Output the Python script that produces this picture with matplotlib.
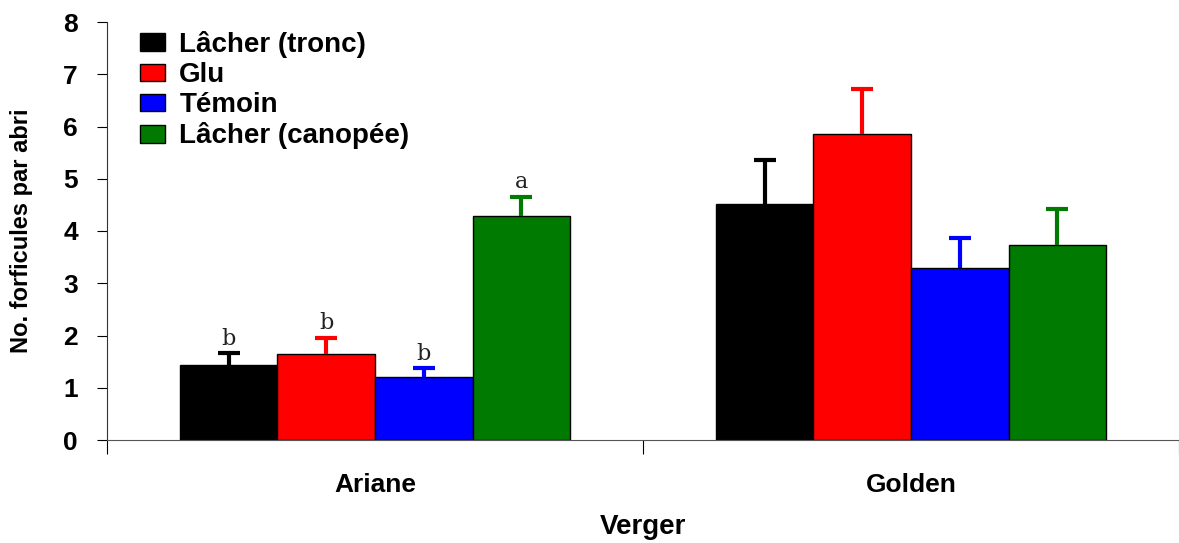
import numpy as np
import matplotlib; matplotlib.use("Agg"); import matplotlib.pyplot as plt
from matplotlib.patches import Patch

plt.rcParams["font.family"] = ["Liberation Sans", "DejaVu Sans"]
plt.rcParams["font.weight"] = "bold"
plt.rcParams["axes.labelweight"] = "bold"

vergers = ["Ariane", "Golden"]
treatments = ["Lâcher (tronc)", "Glu", "Témoin", "Lâcher (canopée)"]
colors = ["#000000", "#ff0000", "#0000ff", "#007a00"]
means = [[1.44, 4.52],   # Lâcher (tronc)
         [1.65, 5.86],   # Glu
         [1.20, 3.30],   # Témoin
         [4.29, 3.74]]   # Lâcher (canopée)
errs = [[0.22, 0.84],
        [0.31, 0.86],
        [0.18, 0.57],
        [0.37, 0.68]]
letters = [["b", ""], ["b", ""], ["b", ""], ["a", ""]]

fig = plt.figure(figsize=(11.79, 5.43), dpi=100)
ax = fig.add_axes([107 / 1179, 1 - 440 / 543, 1072 / 1179, 418 / 543])

centers = np.array([0.5, 1.5])
w = 0.182
for i, (lab, c) in enumerate(zip(treatments, colors)):
    x = centers + (i - 1.5) * w
    ax.bar(x, means[i], w, color=c, edgecolor="black", linewidth=1.0, label=lab, zorder=2)
    eb = ax.errorbar(x, means[i], yerr=[np.zeros(2), errs[i]], fmt="none", ecolor=c,
                     elinewidth=3, capsize=8, capthick=3, zorder=3)
    eb[1][0].set_visible(False)  # drop the lower caps, keep only the upper ones
    for j in range(2):
        if letters[i][j]:
            ax.text(x[j], means[i][j] + errs[i][j] + 0.06, letters[i][j], ha="center", va="bottom",
                    family="DejaVu Serif", fontweight="normal", fontsize=16, color="#222222")

ax.set_xlim(0, 1072 / 538)
ax.set_ylim(0, 8)
ax.set_yticks(range(9))
ax.set_xticks([0, 1, 2])
ax.set_xticklabels([])
ax.set_xticks(centers, minor=True)
ax.set_xticklabels(vergers, minor=True)
ax.tick_params(axis="x", which="minor", length=0, pad=24, labelsize=19)
ax.tick_params(axis="x", which="major", length=10, direction="out")
ax.tick_params(axis="y", length=7, labelsize=19, pad=14)
for s in ["top", "right"]:
    ax.spines[s].set_visible(False)
ax.spines["left"].set_color("#333333")
ax.spines["bottom"].set_color("#555555")
ax.set_ylabel("No. forficules par abri", fontsize=17, labelpad=22)
ax.set_xlabel("Verger", fontsize=20, labelpad=12)

handles = [Patch(facecolor=c, edgecolor="black", linewidth=1.0) for c in colors]
ax.legend(handles, treatments, loc="upper left", bbox_to_anchor=(0.013, 1.025), frameon=False,
          prop={"size": 20, "weight": "bold"}, handlelength=0.9, handleheight=0.6,
          handletextpad=0.5, labelspacing=0.15, borderpad=0.2)

fig.savefig("out.png", dpi=100)
